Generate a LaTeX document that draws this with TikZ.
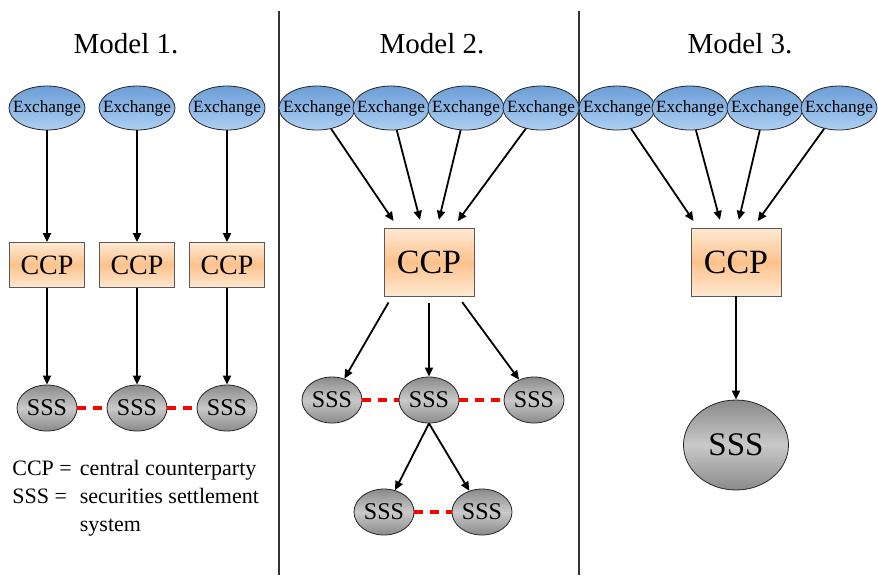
\documentclass[tikz,border=0pt]{standalone}
\usepackage{fontspec}
\setmainfont{Liberation Serif}
\usetikzlibrary{arrows.meta,shapes.geometric,positioning}
\definecolor{exchtop}{HTML}{6C9DD6}
\definecolor{exchbot}{HTML}{AED0F3}
\definecolor{ccpedge}{HTML}{FFE9D3}
\definecolor{ccpmid}{HTML}{FDC28C}
\definecolor{sssedge}{HTML}{8A8A8A}
\definecolor{sssmid}{HTML}{C9C9C9}

\begin{document}
\begin{tikzpicture}[
    x=0.5pt, y=-0.5pt,
    >={Triangle[length=4.5pt,width=4pt]},
    exch/.style={ellipse, draw=black!85, top color=exchtop, bottom color=exchbot, minimum width=38pt, minimum height=22pt, inner xsep=-3.6pt, inner ysep=0pt, font=\fontsize{8.6}{10}\selectfont},
    ccpbox/.style={draw=black!65, top color=ccpedge, bottom color=ccpedge, middle color=ccpmid, inner sep=0pt},
    ccpsmall/.style={ccpbox, minimum width=37.5pt, minimum height=22.5pt, font=\fontsize{14}{16}\selectfont},
    ccpbig/.style={ccpbox, minimum width=45pt, minimum height=34pt, font=\fontsize{17}{19}\selectfont},
    sss/.style={ellipse, draw=black!85, top color=sssedge, bottom color=sssedge, middle color=sssmid, inner sep=0pt, minimum width=30pt, minimum height=23pt, font=\fontsize{12}{14}\selectfont},
    sssbig/.style={sss, minimum width=52.5pt, minimum height=45pt, font=\fontsize{16.5}{18}\selectfont},
    title/.style={font=\fontsize{14.5}{16}\selectfont},
    flow/.style={->, line width=0.9pt, draw=black},
    link/.style={line width=1.8pt, draw=red, dash pattern=on 4.5pt off 3.5pt},
    sepline/.style={line width=0.6pt, draw=black!80}
]
\useasboundingbox (0,0) rectangle (878,575);

% separators and titles
\draw[sepline] (279,11) -- (279,575);
\draw[sepline] (579,11) -- (579,575);
\node[title] (t1) at (126,44) {Model 1.};
\node[title] (t2) at (432,44) {Model 2.};
\node[title] (t3) at (740,44) {Model 3.};

% Model 1
\foreach \i/\xx in {1/47,2/137,3/227} {
  \node[exch] (ex1\i) at (\xx,108) {Exchange};
  \node[ccpsmall] (ccp1\i) at (\xx,265) {CCP};
  \node[sss] (sss1\i) at (\xx,408) {SSS};
  \draw[flow] (ex1\i) -- (ccp1\i);
  \draw[flow] (ccp1\i) -- (sss1\i);
}
\draw[link] (sss11) -- (sss12);
\draw[link] (sss12) -- (sss13);

\node[anchor=north west, inner sep=0pt, font=\fontsize{11}{14}\selectfont] (legend) at (12,455)
  {\begin{tabular}{@{}l@{\hspace{4pt}}l@{}}
   CCP = & central counterparty\\
   SSS = & securities settlement\\
         & system
   \end{tabular}};

% Model 2
\foreach \i/\xx in {1/317,2/391,3/466,4/541}
  \node[exch] (ex2\i) at (\xx,108) {Exchange};
\node[ccpbig] (ccp2) at (429,262) {CCP};
\draw[flow, shorten >=4pt] (ex21) -- ([xshift=-15.5pt]ccp2.north);
\draw[flow, shorten >=4pt] (ex22) -- ([xshift=-3.5pt]ccp2.north);
\draw[flow, shorten >=4pt] (ex23) -- ([xshift=4pt]ccp2.north);
\draw[flow, shorten >=4pt] (ex24) -- ([xshift=12pt]ccp2.north);

\node[sss] (sss21) at (332,400) {SSS};
\node[sss] (sss22) at (429,400) {SSS};
\node[sss] (sss23) at (534,400) {SSS};
\node[sss] (sss24) at (384,512) {SSS};
\node[sss] (sss25) at (482,512) {SSS};
\draw[flow, shorten <=3.5pt] ([xshift=-18.5pt]ccp2.south) -- (sss21);
\draw[flow, shorten <=3.5pt] (ccp2.south) -- (sss22);
\draw[flow, shorten <=3.5pt] ([xshift=14.5pt]ccp2.south) -- (sss23);
\draw[flow] (sss22.south) -- (sss24);
\draw[flow] (sss22.south) -- (sss25);
\draw[link] (sss21) -- (sss22);
\draw[link] (sss22) -- (sss23);
\draw[link] (sss24) -- (sss25);

% Model 3
\foreach \i/\xx in {1/617,2/690,3/765,4/839}
  \node[exch] (ex3\i) at (\xx,108) {Exchange};
\node[ccpbig] (ccp3) at (736,262) {CCP};
\draw[flow, shorten >=4pt] (ex31) -- ([xshift=-19pt]ccp3.north);
\draw[flow, shorten >=4pt] (ex32) -- ([xshift=-7pt]ccp3.north);
\draw[flow, shorten >=4pt] (ex33) -- ([xshift=0.5pt]ccp3.north);
\draw[flow, shorten >=4pt] (ex34) -- ([xshift=8.5pt]ccp3.north);
\node[sssbig] (sss3) at (736,445) {SSS};
\draw[flow] (ccp3) -- (sss3);
\end{tikzpicture}
\end{document}
